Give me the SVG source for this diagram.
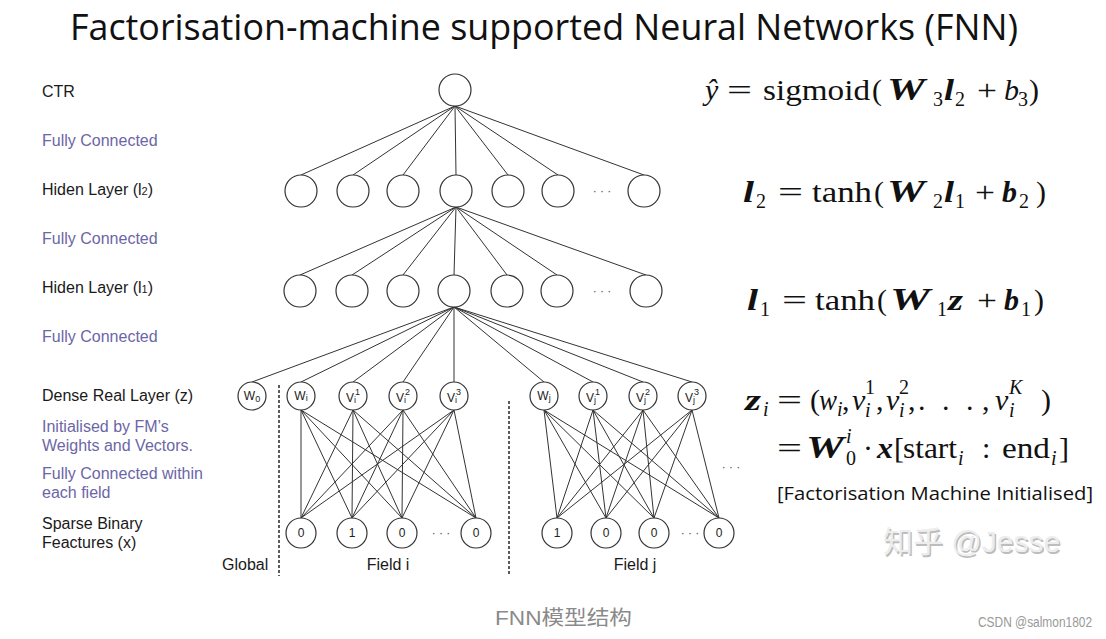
<svg xmlns="http://www.w3.org/2000/svg" width="1106" height="639" viewBox="0 0 1106 639">
<style>
.bg{fill:#fff}
.title{font-family:"Open Sans","Liberation Sans",sans-serif;font-size:36px;fill:#111}
.lbl{font-family:"Liberation Sans",Arial,sans-serif;font-size:16px;fill:#1a1a1a}
.fc{fill:#6b66a6}
.node{fill:#fff;stroke:#333;stroke-width:1.2}
.edge{stroke:#333;stroke-width:1;fill:none}
.sep{stroke:#333;stroke-width:1.6;stroke-dasharray:3 2;fill:none}
.nt{font-family:"Liberation Sans",Arial,sans-serif;font-size:12px;fill:#222;text-anchor:middle}
.ns{font-size:9px}
.dots{font-family:"Liberation Sans",Arial,sans-serif;font-size:12px;fill:#555;text-anchor:middle}
.math{font-family:"Liberation Serif","Times New Roman",serif;font-size:30px;fill:#111}
.bi{font-weight:bold;font-style:italic}
.it{font-style:italic}
.sb{font-size:20px}
.note{font-family:"Open Sans","Liberation Sans",sans-serif;font-size:19px;fill:#111}
.cap{font-family:"Liberation Sans","Noto Sans CJK SC",sans-serif;font-size:20px;fill:#8a8a8a}
.csdn{font-family:"Liberation Sans",sans-serif;font-size:14px;fill:#999}
.wm{font-family:"Liberation Sans","Noto Sans CJK SC",sans-serif;font-size:30px}
</style>
<rect class="bg" x="0" y="0" width="1106" height="639"/>
<text class="title" x="70" y="40" textLength="948" lengthAdjust="spacingAndGlyphs">Factorisation-machine supported Neural Networks (FNN)</text>

<g id="labels">
<text class="lbl" x="42" y="97">CTR</text>
<text class="lbl fc" x="42" y="146">Fully Connected</text>
<text class="lbl" x="42" y="195">Hiden Layer (l<tspan font-size="11">2</tspan>)</text>
<text class="lbl fc" x="42" y="244">Fully Connected</text>
<text class="lbl" x="42" y="293">Hiden Layer (l<tspan font-size="11">1</tspan>)</text>
<text class="lbl fc" x="42" y="342">Fully Connected</text>
<text class="lbl" x="42" y="401">Dense Real Layer (z)</text>
<text class="lbl fc" x="42" y="432">Initialised by FM’s</text>
<text class="lbl fc" x="42" y="451">Weights and Vectors.</text>
<text class="lbl fc" x="42" y="479">Fully Connected within</text>
<text class="lbl fc" x="42" y="498">each field</text>
<text class="lbl" x="42" y="529">Sparse Binary</text>
<text class="lbl" x="42" y="548">Feactures (x)</text>
<text class="lbl" x="222" y="570">Global</text>
<text class="lbl" x="388" y="570" text-anchor="middle">Field i</text>
<text class="lbl" x="635" y="570" text-anchor="middle">Field j</text>
</g>

<g id="connectors">
<line class="edge" x1="455" y1="106" x2="301" y2="175"/>
<line class="edge" x1="455" y1="106" x2="353" y2="175"/>
<line class="edge" x1="455" y1="106" x2="403" y2="175"/>
<line class="edge" x1="455" y1="106" x2="456" y2="175"/>
<line class="edge" x1="455" y1="106" x2="508" y2="175"/>
<line class="edge" x1="455" y1="106" x2="558" y2="175"/>
<line class="edge" x1="455" y1="106" x2="644" y2="175"/>

<line class="edge" x1="456" y1="207" x2="300" y2="275"/>
<line class="edge" x1="456" y1="207" x2="352" y2="275"/>
<line class="edge" x1="456" y1="207" x2="403" y2="275"/>
<line class="edge" x1="456" y1="207" x2="454" y2="275"/>
<line class="edge" x1="456" y1="207" x2="507" y2="275"/>
<line class="edge" x1="456" y1="207" x2="557" y2="275"/>
<line class="edge" x1="456" y1="207" x2="646" y2="275"/>

<line class="edge" x1="454" y1="307" x2="252" y2="382"/>
<line class="edge" x1="454" y1="307" x2="301" y2="382"/>
<line class="edge" x1="454" y1="307" x2="353" y2="382"/>
<line class="edge" x1="454" y1="307" x2="403" y2="382"/>
<line class="edge" x1="454" y1="307" x2="454" y2="382"/>
<line class="edge" x1="454" y1="307" x2="544" y2="382"/>
<line class="edge" x1="454" y1="307" x2="593" y2="382"/>
<line class="edge" x1="454" y1="307" x2="643" y2="382"/>
<line class="edge" x1="454" y1="307" x2="692" y2="382"/>

<path class="edge" d="M301 410L301 518M301 410L352 518M301 410L402 518M301 410L476 518
M353 410L301 518M353 410L352 518M353 410L402 518M353 410L476 518
M403 410L301 518M403 410L352 518M403 410L402 518M403 410L476 518
M454 410L301 518M454 410L352 518M454 410L402 518M454 410L476 518"/>
<path class="edge" d="M544 410L557 518M544 410L606 518M544 410L654 518M544 410L719 518
M593 410L557 518M593 410L606 518M593 410L654 518M593 410L719 518
M643 410L557 518M643 410L606 518M643 410L654 518M643 410L719 518
M692 410L557 518M692 410L606 518M692 410L654 518M692 410L719 518"/>

<line class="sep" x1="279" y1="385" x2="279" y2="576"/>
<line class="sep" x1="509" y1="401" x2="509" y2="576"/>
</g>

<g id="node-ctr"><circle class="node" cx="455" cy="90" r="16"/></g>

<g id="layer-l2">
<circle class="node" cx="301" cy="191" r="16"/>
<circle class="node" cx="353" cy="191" r="16"/>
<circle class="node" cx="403" cy="191" r="16"/>
<circle class="node" cx="456" cy="191" r="16"/>
<circle class="node" cx="508" cy="191" r="16"/>
<circle class="node" cx="558" cy="191" r="16"/>
<text class="dots" x="602" y="195">· · ·</text>
<circle class="node" cx="644" cy="191" r="16"/>
</g>

<g id="layer-l1">
<circle class="node" cx="300" cy="291" r="16"/>
<circle class="node" cx="352" cy="291" r="16"/>
<circle class="node" cx="403" cy="291" r="16"/>
<circle class="node" cx="454" cy="291" r="16"/>
<circle class="node" cx="507" cy="291" r="16"/>
<circle class="node" cx="557" cy="291" r="16"/>
<text class="dots" x="602" y="295">· · ·</text>
<circle class="node" cx="646" cy="291" r="16"/>
</g>

<g id="node-w0"><circle class="node" cx="252" cy="396" r="14"/><text class="nt" x="252" y="400">W<tspan class="ns" dy="2">0</tspan></text></g>

<g id="dense-field-i">
<circle class="node" cx="301" cy="396" r="14"/><text class="nt" x="301" y="400">W<tspan class="ns" dy="1">i</tspan></text>
<circle class="node" cx="353" cy="396" r="14"/><text class="nt" x="353" y="402">V<tspan class="ns" dy="1">i</tspan><tspan class="ns" dx="-1" dy="-8">1</tspan></text>
<circle class="node" cx="403" cy="396" r="14"/><text class="nt" x="403" y="402">V<tspan class="ns" dy="1">i</tspan><tspan class="ns" dx="-1" dy="-8">2</tspan></text>
<circle class="node" cx="454" cy="396" r="14"/><text class="nt" x="454" y="402">V<tspan class="ns" dy="1">i</tspan><tspan class="ns" dx="-1" dy="-8">3</tspan></text>
</g>

<g id="dense-field-j">
<circle class="node" cx="544" cy="396" r="14"/><text class="nt" x="544" y="400">W<tspan class="ns" dy="1">j</tspan></text>
<circle class="node" cx="593" cy="396" r="14"/><text class="nt" x="593" y="402">V<tspan class="ns" dy="1">j</tspan><tspan class="ns" dx="-1" dy="-8">1</tspan></text>
<circle class="node" cx="643" cy="396" r="14"/><text class="nt" x="643" y="402">V<tspan class="ns" dy="1">j</tspan><tspan class="ns" dx="-1" dy="-8">2</tspan></text>
<circle class="node" cx="692" cy="396" r="14"/><text class="nt" x="692" y="402">V<tspan class="ns" dy="1">j</tspan><tspan class="ns" dx="-1" dy="-8">3</tspan></text>
</g>

<g id="sparse-field-i">
<circle class="node" cx="301" cy="533" r="15"/><text class="nt" x="301" y="537">0</text>
<circle class="node" cx="352" cy="533" r="15"/><text class="nt" x="352" y="537">1</text>
<circle class="node" cx="402" cy="533" r="15"/><text class="nt" x="402" y="537">0</text>
<text class="dots" x="441" y="537">· · ·</text>
<circle class="node" cx="476" cy="533" r="15"/><text class="nt" x="476" y="537">0</text>
</g>

<g id="sparse-field-j">
<circle class="node" cx="557" cy="533" r="15"/><text class="nt" x="557" y="537">1</text>
<circle class="node" cx="606" cy="533" r="15"/><text class="nt" x="606" y="537">0</text>
<circle class="node" cx="654" cy="533" r="15"/><text class="nt" x="654" y="537">0</text>
<text class="dots" x="690" y="537">· · ·</text>
<circle class="node" cx="719" cy="533" r="15"/><text class="nt" x="719" y="537">0</text>
</g>
<text class="dots" x="731" y="471">· · ·</text>

<g id="formulas">
<text class="math"><tspan class="it" x="705" y="100">ŷ</tspan><tspan x="727" y="100" textLength="25" lengthAdjust="spacingAndGlyphs">=</tspan><tspan x="763" y="100" textLength="107" lengthAdjust="spacingAndGlyphs">sigmoid</tspan><tspan x="872" y="100">(</tspan><tspan class="bi" x="887" y="100" textLength="38" lengthAdjust="spacingAndGlyphs" font-size="32">W</tspan><tspan class="sb" x="933" y="106">3</tspan><tspan class="bi" x="944" y="100" textLength="10" lengthAdjust="spacingAndGlyphs">l</tspan><tspan class="sb" x="955" y="106">2</tspan><tspan x="977" y="100" textLength="20" lengthAdjust="spacingAndGlyphs">+</tspan><tspan class="it" x="1004" y="100">b</tspan><tspan class="sb" x="1018" y="106">3</tspan><tspan x="1029" y="100">)</tspan></text>

<text class="math"><tspan class="bi" x="743" y="202" textLength="11" lengthAdjust="spacingAndGlyphs">l</tspan><tspan class="sb" x="756" y="208">2</tspan><tspan x="778" y="202" textLength="25" lengthAdjust="spacingAndGlyphs">=</tspan><tspan x="812" y="202" textLength="60" lengthAdjust="spacingAndGlyphs">tanh</tspan><tspan x="874" y="202">(</tspan><tspan class="bi" x="887" y="202" textLength="38" lengthAdjust="spacingAndGlyphs" font-size="32">W</tspan><tspan class="sb" x="933" y="208">2</tspan><tspan class="bi" x="944" y="202" textLength="10" lengthAdjust="spacingAndGlyphs">l</tspan><tspan class="sb" x="955" y="208">1</tspan><tspan x="975" y="202" textLength="20" lengthAdjust="spacingAndGlyphs">+</tspan><tspan class="bi" x="1002" y="202">b</tspan><tspan class="sb" x="1019" y="208">2</tspan><tspan x="1036" y="202">)</tspan></text>

<text class="math"><tspan class="bi" x="747" y="310" textLength="11" lengthAdjust="spacingAndGlyphs">l</tspan><tspan class="sb" x="760" y="316">1</tspan><tspan x="782" y="310" textLength="25" lengthAdjust="spacingAndGlyphs">=</tspan><tspan x="815" y="310" textLength="60" lengthAdjust="spacingAndGlyphs">tanh</tspan><tspan x="877" y="310">(</tspan><tspan class="bi" x="890" y="310" textLength="40" lengthAdjust="spacingAndGlyphs" font-size="32">W</tspan><tspan class="sb" x="937" y="316">1</tspan><tspan class="bi" x="948" y="310" textLength="15" lengthAdjust="spacingAndGlyphs">z</tspan><tspan x="977" y="310" textLength="20" lengthAdjust="spacingAndGlyphs">+</tspan><tspan class="bi" x="1004" y="310">b</tspan><tspan class="sb" x="1021" y="316">1</tspan><tspan x="1034" y="310">)</tspan></text>

<text class="math"><tspan class="bi" x="745" y="410" textLength="16" lengthAdjust="spacingAndGlyphs">z</tspan><tspan class="sb it" x="763" y="416">i</tspan><tspan x="777" y="410" textLength="25" lengthAdjust="spacingAndGlyphs">=</tspan><tspan x="810" y="410">(</tspan><tspan class="it" x="819" y="410" textLength="18" lengthAdjust="spacingAndGlyphs">w</tspan><tspan class="sb it" x="837" y="416">i</tspan><tspan x="842" y="410">,</tspan><tspan class="it" x="852" y="410">v</tspan><tspan class="sb" x="865" y="394">1</tspan><tspan class="sb it" x="865" y="417">i</tspan><tspan x="876" y="410">,</tspan><tspan class="it" x="886" y="410">v</tspan><tspan class="sb" x="899" y="394">2</tspan><tspan class="sb it" x="899" y="417">i</tspan><tspan x="908" y="410">,</tspan><tspan x="918" y="410">.</tspan><tspan x="942" y="410">.</tspan><tspan x="966" y="410">.</tspan><tspan x="982" y="410">,</tspan><tspan class="it" x="995" y="410">v</tspan><tspan class="sb it" x="1009" y="394">K</tspan><tspan class="sb it" x="1009" y="417">i</tspan><tspan x="1041" y="410">)</tspan></text>

<text class="math"><tspan x="777" y="458" textLength="25" lengthAdjust="spacingAndGlyphs">=</tspan><tspan class="bi" x="806" y="458" textLength="38" lengthAdjust="spacingAndGlyphs" font-size="32">W</tspan><tspan class="sb it" x="846" y="443">i</tspan><tspan class="sb" x="846" y="465">0</tspan><tspan x="863" y="458">·</tspan><tspan class="bi" x="877" y="458" textLength="16" lengthAdjust="spacingAndGlyphs">x</tspan><tspan x="894" y="458">[</tspan><tspan x="903" y="458" textLength="54" lengthAdjust="spacingAndGlyphs">start</tspan><tspan class="sb it" x="958" y="465">i</tspan><tspan x="982" y="458">:</tspan><tspan x="1002" y="458" textLength="48" lengthAdjust="spacingAndGlyphs">end</tspan><tspan class="sb it" x="1051" y="465">i</tspan><tspan x="1059" y="458">]</tspan></text>
<text class="note" x="777" y="500" textLength="316" lengthAdjust="spacingAndGlyphs">[Factorisation Machine Initialised]</text>
</g>

<g id="watermarks">
<text class="wm" x="884.5" y="553.5" fill="#bdbdbd">知乎 @Jesse</text>
<text class="wm" x="883" y="552" fill="#ededed">知乎 @Jesse</text>
<text class="cap" x="495" y="625" textLength="137" lengthAdjust="spacingAndGlyphs">FNN模型结构</text>
<text class="csdn" x="978" y="627" textLength="114" lengthAdjust="spacingAndGlyphs">CSDN @salmon1802</text>
</g>
</svg>
